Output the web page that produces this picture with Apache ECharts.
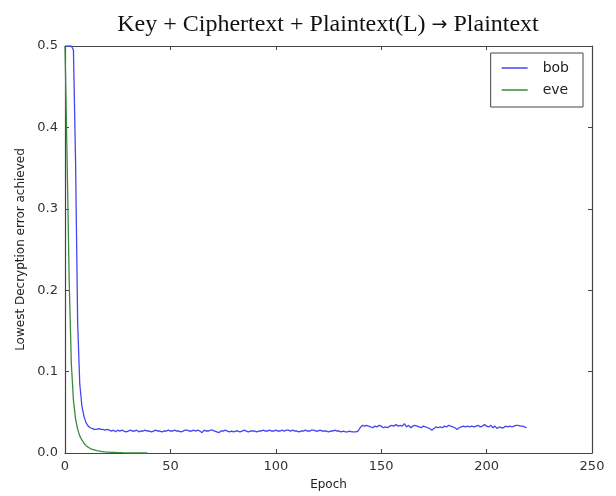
<!DOCTYPE html>
<html>
<head>
<meta charset="utf-8">
<script src="https://cdn.jsdelivr.net/npm/echarts@6/dist/echarts.min.js"></script>
<style>
  html, body { margin: 0; padding: 0; background: #fff; }
  #chart { width: 616px; height: 496px; }
</style>
</head>
<body>
<div id="chart"></div>
<script>
// lowest decryption error per epoch
const bob = [
  0.5, 0.5, 0.5, 0.5, 0.495, 0.36, 0.16, 0.085, 0.058, 0.045,
  0.037, 0.033, 0.031, 0.030, 0.029, 0.029, 0.030, 0.029, 0.029, 0.028,
  0.029, 0.028, 0.027, 0.028, 0.026, 0.028, 0.027, 0.028, 0.027, 0.026,
  0.027, 0.028, 0.027, 0.027, 0.028, 0.026, 0.027, 0.027, 0.028, 0.027,
  0.027, 0.026, 0.027, 0.028, 0.027, 0.027, 0.026, 0.027, 0.027, 0.028,
  0.027, 0.027, 0.028, 0.027, 0.027, 0.026, 0.027, 0.028, 0.028, 0.027,
  0.027, 0.028, 0.027, 0.028, 0.027, 0.025, 0.028, 0.027, 0.027, 0.028,
  0.028, 0.027, 0.026, 0.025, 0.027, 0.027, 0.028, 0.027, 0.026, 0.027,
  0.026, 0.027, 0.027, 0.026, 0.027, 0.028, 0.027, 0.026, 0.027, 0.027,
  0.027, 0.026, 0.027, 0.027, 0.028, 0.027, 0.027, 0.028, 0.027, 0.027,
  0.028, 0.027, 0.027, 0.028, 0.027, 0.028, 0.028, 0.027, 0.028, 0.027,
  0.027, 0.026, 0.027, 0.027, 0.028, 0.027, 0.027, 0.028, 0.028, 0.027,
  0.027, 0.028, 0.027, 0.027, 0.027, 0.026, 0.027, 0.027, 0.028, 0.027,
  0.027, 0.026, 0.027, 0.026, 0.026, 0.027, 0.026, 0.026, 0.026, 0.027,
  0.031, 0.034, 0.033, 0.034, 0.033, 0.032, 0.031, 0.033, 0.032, 0.034,
  0.033, 0.031, 0.032, 0.031, 0.033, 0.034, 0.033, 0.035, 0.033, 0.034,
  0.033, 0.036, 0.032, 0.034, 0.031, 0.033, 0.034, 0.033, 0.032, 0.031,
  0.033, 0.032, 0.031, 0.030, 0.028, 0.030, 0.032, 0.031, 0.032, 0.031,
  0.033, 0.032, 0.034, 0.033, 0.032, 0.031, 0.029, 0.031, 0.032, 0.033,
  0.032, 0.033, 0.032, 0.033, 0.032, 0.033, 0.034, 0.032, 0.033, 0.035,
  0.033, 0.032, 0.034, 0.031, 0.033, 0.030, 0.032, 0.031, 0.031, 0.033,
  0.032, 0.033, 0.032, 0.033, 0.034, 0.034, 0.033, 0.033, 0.032, 0.031
];
const eve = [
  0.5, 0.36, 0.21, 0.11, 0.065, 0.042, 0.029, 0.021, 0.016, 0.012,
  0.009, 0.007, 0.0055, 0.0045, 0.0037, 0.003, 0.0025, 0.002, 0.0017, 0.0014,
  0.0012, 0.001, 0.0008, 0.0007, 0.0006, 0.0005, 0.0004, 0.0003, 0.0002, 0.0001,
  0, 0, 0, 0, 0, 0, 0, 0, 0, 0
];
const xTicks = [0, 50, 100, 150, 200, 250];
const yTicks = [0.0, 0.1, 0.2, 0.3, 0.4, 0.5];

const FONT = 'DejaVu Sans';
const chart = echarts.init(document.getElementById('chart'));

const boxAxis = (extra) => Object.assign({
  axisLine: { show: true, onZero: false, lineStyle: { color: '#444', width: 1.2 } },
  axisTick: { show: true, inside: true, length: 4, lineStyle: { color: '#444' } },
  splitLine: { show: false },
  axisLabel: { show: false }
}, extra);

const option = {
  animation: false,
  backgroundColor: '#fff',
  title: {
    text: '{a|Key + Ciphertext + Plaintext(L) }{b|\u2192}{a| Plaintext}',
    left: 323, top: 8, textAlign: 'center',
    textStyle: {
      fontWeight: 'normal',
      rich: {
        a: { fontFamily: 'Liberation Serif', fontSize: 24, fontWeight: 'normal', color: '#111' },
        b: { fontFamily: 'DejaVu Sans', fontSize: 19, fontWeight: 'normal', color: '#111' }
      }
    }
  },
  grid: { left: 65, right: 24, top: 46, bottom: 43 },
  legend: {
    orient: 'vertical',
    right: 33, top: 53,
    data: ['bob', 'eve'],
    icon: 'rect',
    itemWidth: 26, itemHeight: 1.5, itemGap: 8,
    padding: [8, 14, 10, 11],
    borderColor: '#444', borderWidth: 1,
    backgroundColor: '#fff',
    textStyle: { fontFamily: FONT, fontSize: 14, color: '#222', padding: [0, 0, 0, 10] }
  },
  xAxis: [
    boxAxis({
      type: 'value', min: 0, max: 250, interval: 50, position: 'bottom',
      name: 'Epoch', nameLocation: 'middle', nameGap: 26,
      nameTextStyle: { fontFamily: FONT, fontSize: 12, color: '#222' },
      axisLabel: {
        show: true, fontFamily: FONT, fontSize: 13, color: '#333', margin: 7,
        customValues: xTicks
      }
    }),
    boxAxis({ type: 'value', min: 0, max: 250, interval: 50, position: 'top' })
  ],
  yAxis: [
    boxAxis({
      type: 'value', min: 0, max: 0.5, interval: 0.1, position: 'left',
      name: 'Lowest Decryption error achieved', nameLocation: 'middle', nameGap: 37,
      nameTextStyle: { fontFamily: FONT, fontSize: 12, color: '#222' },
      axisLabel: {
        show: true, fontFamily: FONT, fontSize: 13, color: '#333', margin: 7,
        formatter: (v) => v.toFixed(1)
      }
    }),
    boxAxis({ type: 'value', min: 0, max: 0.5, interval: 0.1, position: 'right' })
  ],
  series: [
    {
      name: 'bob', type: 'line', symbol: 'none',
      lineStyle: { color: '#4646ee', width: 1.3 },
      itemStyle: { color: '#4646ee' },
      data: bob.map((v, i) => [i, v]),
      z: 3
    },
    {
      name: 'eve', type: 'line', symbol: 'none',
      lineStyle: { color: '#3a8a3a', width: 1.3 },
      itemStyle: { color: '#3a8a3a' },
      data: eve.map((v, i) => [i, v]),
      z: 2
    }
  ]
};
chart.setOption(option);
</script>
</body>
</html>
